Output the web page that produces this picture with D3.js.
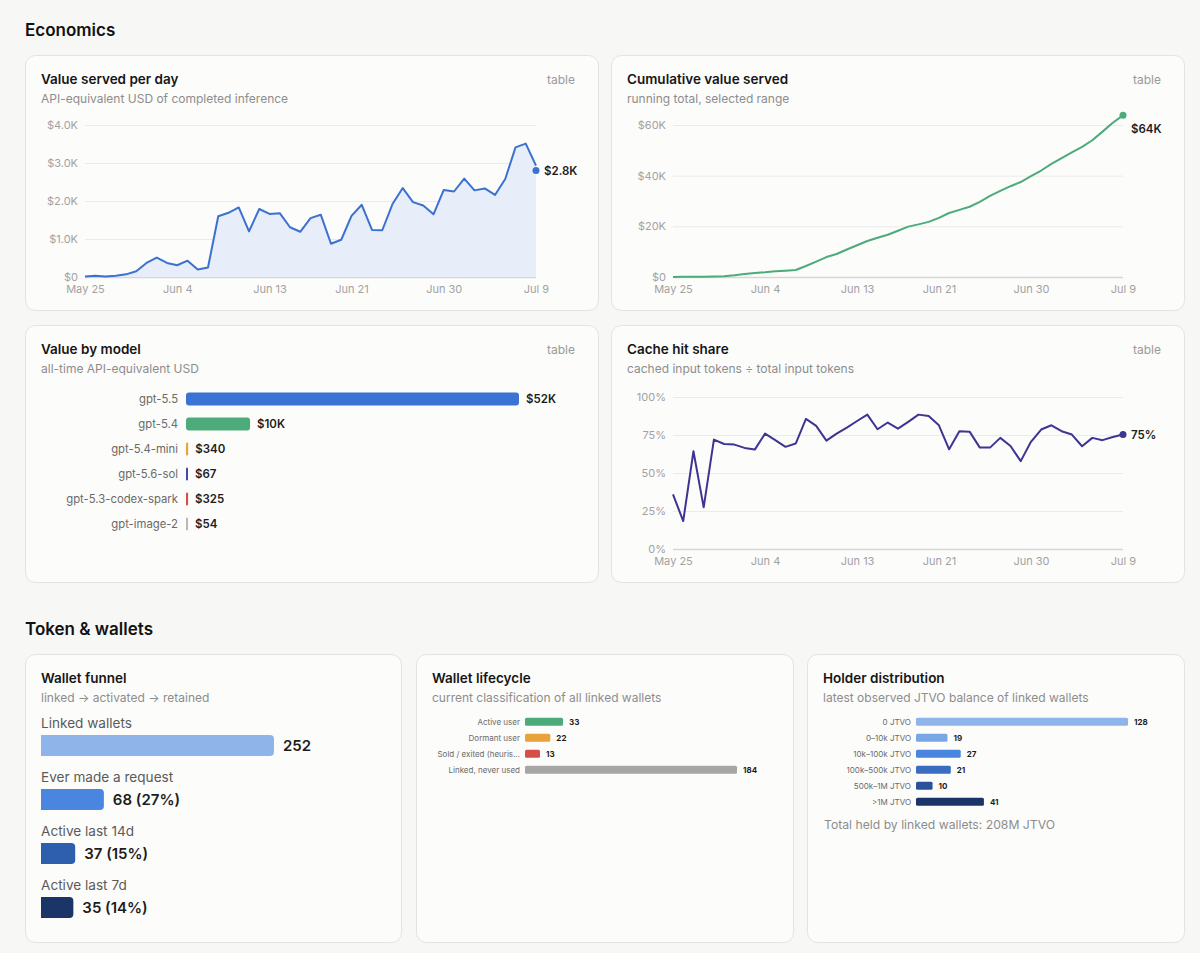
<!DOCTYPE html>
<html>
<head>
<meta charset="utf-8">
<script src="https://cdn.jsdelivr.net/npm/d3@7"></script>
<style>
  body { margin: 0; background: #f7f7f6; }
  svg text { font-family: Inter, "Noto Sans", "DejaVu Sans", sans-serif; }
</style>
</head>
<body>
<svg id="dash" width="1200" height="953"></svg>
<script>
// ---- data ----
const dayTickIndex = [0, 9, 18, 26, 35, 44];
const dayTickLabels = ["May 25", "Jun 4", "Jun 13", "Jun 21", "Jun 30", "Jul 9"];

// value served per day, USD
const dailyValue = [10, 35, 10, 35, 70, 150, 370, 510, 370, 310, 430, 200, 250,
  1600, 1690, 1830, 1200, 1790, 1660, 1680, 1310, 1190, 1550, 1640, 875, 980,
  1610, 1900, 1240, 1230, 1920, 2340, 1970, 1880, 1650, 2290, 2250, 2590, 2280,
  2330, 2160, 2580, 3410, 3510, 2930];
const dailyLatest = 2800;
const dailyTicks = [0, 1000, 2000, 3000, 4000];

// cumulative value served, USD
const cumulativeValue = [10, 50, 60, 90, 160, 310, 680, 1190, 1560, 1870, 2300, 2500,
  2750, 4350, 6040, 7870, 9070, 10860, 12520, 14200, 15510, 16700, 18250, 19890,
  20770, 21750, 23360, 25260, 26500, 27730, 29650, 31990, 33960, 35840, 37490,
  39780, 42030, 44620, 46900, 49230, 51390, 53970, 57380, 60890, 63820];
const cumulativeTicks = [0, 20000, 40000, 60000];

// cache hit share, %
const cacheShare = [35.9, 18.4, 64.3, 27.4, 72.0, 69.1, 68.7, 66.5, 65.4, 75.9, 71.6,
  67.2, 69.4, 85.6, 81.0, 71.3, 75.9, 79.9, 84.2, 88.4, 78.8, 83.2, 79.2, 83.6, 88.4,
  87.5, 81.4, 65.6, 77.5, 77.2, 66.7, 66.7, 73.1, 67.8, 57.8, 70.5, 78.6, 81.4, 77.5,
  75.3, 67.6, 73.1, 71.6, 73.7, 75.3];
const cacheTicks = [0, 25, 50, 75, 100];

const modelNames = ["gpt-5.5", "gpt-5.4", "gpt-5.4-mini", "gpt-5.6-sol", "gpt-5.3-codex-spark", "gpt-image-2"];
const modelValues = [52000, 10000, 340, 67, 325, 54];
const modelColors = ["#3b73d3", "#4dab7b", "#e3a53c", "#4b46a8", "#d64d4a", "#b8b8b8"];

const funnelLabels = ["Linked wallets", "Ever made a request", "Active last 14d", "Active last 7d"];
const funnelValues = [252, 68, 37, 35];
const funnelColors = ["#8fb4e9", "#4a85e0", "#2e5fae", "#1b3568"];

const lifecycleLabels = ["Active user", "Dormant user", "Sold / exited (heuris…", "Linked, never used"];
const lifecycleValues = [33, 22, 13, 184];
const lifecycleColors = ["#4dab7b", "#e8a33a", "#d64d4a", "#a8a6a3"];

const holderLabels = ["0 JTVO", "0–10k JTVO", "10k–100k JTVO", "100k–500k JTVO", "500k–1M JTVO", ">1M JTVO"];
const holderValues = [128, 19, 27, 21, 10, 41];
const holderColors = ["#8fb4e9", "#79a7e6", "#4a85e0", "#3a6cc0", "#2a529a", "#1b3568"];
const holderTotal = "Total held by linked wallets: 208M JTVO";

const svg = d3.select("#dash");

// section headings
svg.append("text").attr("x", 25).attr("y", 36).text("Economics")
  .attr("font-size", 17).attr("font-weight", 600).attr("fill", "#111");
svg.append("text").attr("x", 25).attr("y", 635).text("Token & wallets")
  .attr("font-size", 17).attr("font-weight", 600).attr("fill", "#111");

function card(x, y, w, h, title, sub, table) {
  svg.append("rect").attr("x", x + 0.5).attr("y", y + 0.5).attr("width", w).attr("height", h)
    .attr("rx", 10).attr("fill", "#fcfcfb").attr("stroke", "#e3e3e1");
  svg.append("text").attr("x", x + 16).attr("y", y + 29).text(title)
    .attr("font-size", 13.5).attr("font-weight", 600).attr("fill", "#161616");
  svg.append("text").attr("x", x + 16).attr("y", y + 47.5).text(sub)
    .attr("font-size", 12).attr("fill", "#8d8d8d");
  if (table) {
    svg.append("text").attr("x", x + w - 23).attr("y", y + 29).text("table")
      .attr("text-anchor", "end").attr("font-size", 12).attr("fill", "#9a9a9a");
  }
}

function lineChart(o) {
  const g = svg.append("g");
  const x = d3.scaleLinear().domain([0, o.data.length - 1]).range([o.left, o.right]);
  const y = d3.scaleLinear().domain(o.domain).range([o.bottom, o.top]);

  const ya = g.append("g").attr("transform", `translate(${o.left},0)`)
    .call(d3.axisLeft(y).tickValues(o.ticks).tickFormat(o.fmt)
      .tickSize(-(o.right - o.left)).tickPadding(7));
  ya.select(".domain").remove();
  ya.selectAll(".tick line").attr("stroke", d => d === 0 ? "#d6d6d6" : "#ebebea").attr("stroke-width", d => d === 0 ? 1.5 : 1);
  ya.selectAll(".tick text").attr("fill", "#a2a2a2").attr("font-size", 11);

  const xa = g.append("g").attr("transform", `translate(0,${o.bottom})`)
    .call(d3.axisBottom(x).tickValues(dayTickIndex).tickFormat((d, i) => dayTickLabels[i])
      .tickSize(0).tickPadding(8));
  xa.select(".domain").remove();
  xa.selectAll(".tick text").attr("fill", "#a2a2a2").attr("font-size", 11);

  if (o.area) {
    g.append("path").datum(o.data)
      .attr("d", d3.area().x((d, i) => x(i)).y0(y(0)).y1(d => y(d)))
      .attr("fill", o.area);
  }
  g.append("path").datum(o.data)
    .attr("d", d3.line().x((d, i) => x(i)).y(d => y(d)))
    .attr("fill", "none").attr("stroke", o.color).attr("stroke-width", 2)
    .attr("stroke-linejoin", "round");

  const last = o.latest;
  const ly = y(last);
  g.append("circle").attr("cx", x(o.data.length - 1)).attr("cy", ly).attr("r", 3.5).attr("fill", o.color);
  g.append("text").attr("x", x(o.data.length - 1) + 8).attr("y", Math.max(ly, o.top + 4))
    .attr("dy", "0.35em").text(o.label(last))
    .attr("font-size", 11.5).attr("font-weight", 600).attr("fill", "#1d1d1d");
}

// ---- Economics ----
card(25, 55, 573, 255, "Value served per day", "API-equivalent USD of completed inference", true);
lineChart({
  data: dailyValue, latest: dailyLatest, domain: [0, 4000], ticks: dailyTicks,
  fmt: d => d === 0 ? "$0" : "$" + (d / 1000).toFixed(1) + "K",
  left: 85, right: 536, top: 125, bottom: 277,
  color: "#3b71cf", area: "#e7eef9",
  label: v => "$" + (v / 1000).toFixed(1) + "K"
});

card(611, 55, 573, 255, "Cumulative value served", "running total, selected range", true);
lineChart({
  data: cumulativeValue, latest: cumulativeValue[cumulativeValue.length - 1],
  domain: [0, 60000], ticks: cumulativeTicks,
  fmt: d => d === 0 ? "$0" : "$" + d / 1000 + "K",
  left: 673, right: 1123, top: 125, bottom: 277,
  color: "#4cab7a", area: null,
  label: v => "$" + Math.round(v / 1000) + "K"
});

card(25, 325, 573, 257, "Value by model", "all-time API-equivalent USD", true);
{
  const g = svg.append("g");
  const x = d3.scaleLinear().domain([0, d3.max(modelValues)]).range([0, 333]);
  const y = d3.scalePoint().domain(modelNames).range([399, 524]);
  const fmt = v => v >= 1000 ? "$" + Math.round(v / 1000) + "K" : "$" + v;
  modelNames.forEach((m, i) => {
    const w = Math.max(2, x(modelValues[i]));
    g.append("text").attr("x", 178).attr("y", y(m)).attr("dy", "0.35em").attr("text-anchor", "end")
      .text(m).attr("font-size", 11.3).attr("fill", "#6a6a6a");
    g.append("rect").attr("x", 186).attr("y", y(m) - 6.5).attr("width", w).attr("height", 13)
      .attr("rx", w > 6 ? 3 : 1).attr("fill", modelColors[i]);
    g.append("text").attr("x", 186 + w + 7).attr("y", y(m)).attr("dy", "0.35em")
      .text(fmt(modelValues[i])).attr("font-size", 11.5).attr("font-weight", 600).attr("fill", "#1d1d1d");
  });
}

card(611, 325, 573, 257, "Cache hit share", "cached input tokens ÷ total input tokens", true);
lineChart({
  data: cacheShare, latest: cacheShare[cacheShare.length - 1], domain: [0, 100], ticks: cacheTicks,
  fmt: d => d + "%",
  left: 673, right: 1123, top: 397, bottom: 549,
  color: "#3d3592", area: null,
  label: v => Math.round(v) + "%"
});

// ---- Token & wallets ----
function roundRight(x, y, w, h, r) {
  r = Math.min(r, w / 2);
  return `M${x},${y}H${x + w - r}Q${x + w},${y} ${x + w},${y + r}V${y + h - r}Q${x + w},${y + h} ${x + w - r},${y + h}H${x}Z`;
}

card(25, 654, 376, 288, "Wallet funnel", "linked → activated → retained", false);
{
  const g = svg.append("g");
  const x = d3.scaleLinear().domain([0, funnelValues[0]]).range([0, 233]);
  funnelLabels.forEach((lab, i) => {
    const top = 735 + i * 54;
    const w = x(funnelValues[i]);
    g.append("text").attr("x", 41).attr("y", top - 7).text(lab)
      .attr("font-size", 13.6).attr("fill", "#5a5a5a");
    g.append("path").attr("d", roundRight(41, top, w, 21, 4)).attr("fill", funnelColors[i]);
    const pct = i === 0 ? "" : " (" + Math.round(funnelValues[i] / funnelValues[0] * 100) + "%)";
    g.append("text").attr("x", 41 + w + 9).attr("y", top + 10.5).attr("dy", "0.36em")
      .text(funnelValues[i] + pct).attr("font-size", 15).attr("font-weight", 600).attr("fill", "#1d1d1d");
  });
}

function smallBars(labels, values, colors, x0, yTop, yBot) {
  const g = svg.append("g");
  const x = d3.scaleLinear().domain([0, d3.max(values)]).range([0, 212]);
  const y = d3.scalePoint().domain(labels).range([yTop, yBot]);
  labels.forEach((lab, i) => {
    const w = x(values[i]);
    g.append("text").attr("x", x0 - 5).attr("y", y(lab)).attr("dy", "0.35em").attr("text-anchor", "end")
      .text(lab).attr("font-size", 8).attr("fill", "#6a6a6a");
    g.append("rect").attr("x", x0).attr("y", y(lab) - 4).attr("width", w).attr("height", 8)
      .attr("rx", 1.5).attr("fill", colors[i]);
    g.append("text").attr("x", x0 + w + 6).attr("y", y(lab)).attr("dy", "0.35em")
      .text(values[i]).attr("font-size", 8).attr("font-weight", 700).attr("fill", "#1d1d1d");
  });
}

card(416, 654, 377, 288, "Wallet lifecycle", "current classification of all linked wallets", false);
smallBars(lifecycleLabels, lifecycleValues, lifecycleColors, 525, 721.7, 769.7);

card(807, 654, 377, 288, "Holder distribution", "latest observed JTVO balance of linked wallets", false);
smallBars(holderLabels, holderValues, holderColors, 916, 721.7, 801.7);
svg.append("text").attr("x", 824).attr("y", 828.5).text(holderTotal)
  .attr("font-size", 12.2).attr("fill", "#8d8d8d");
</script>
</body>
</html>
